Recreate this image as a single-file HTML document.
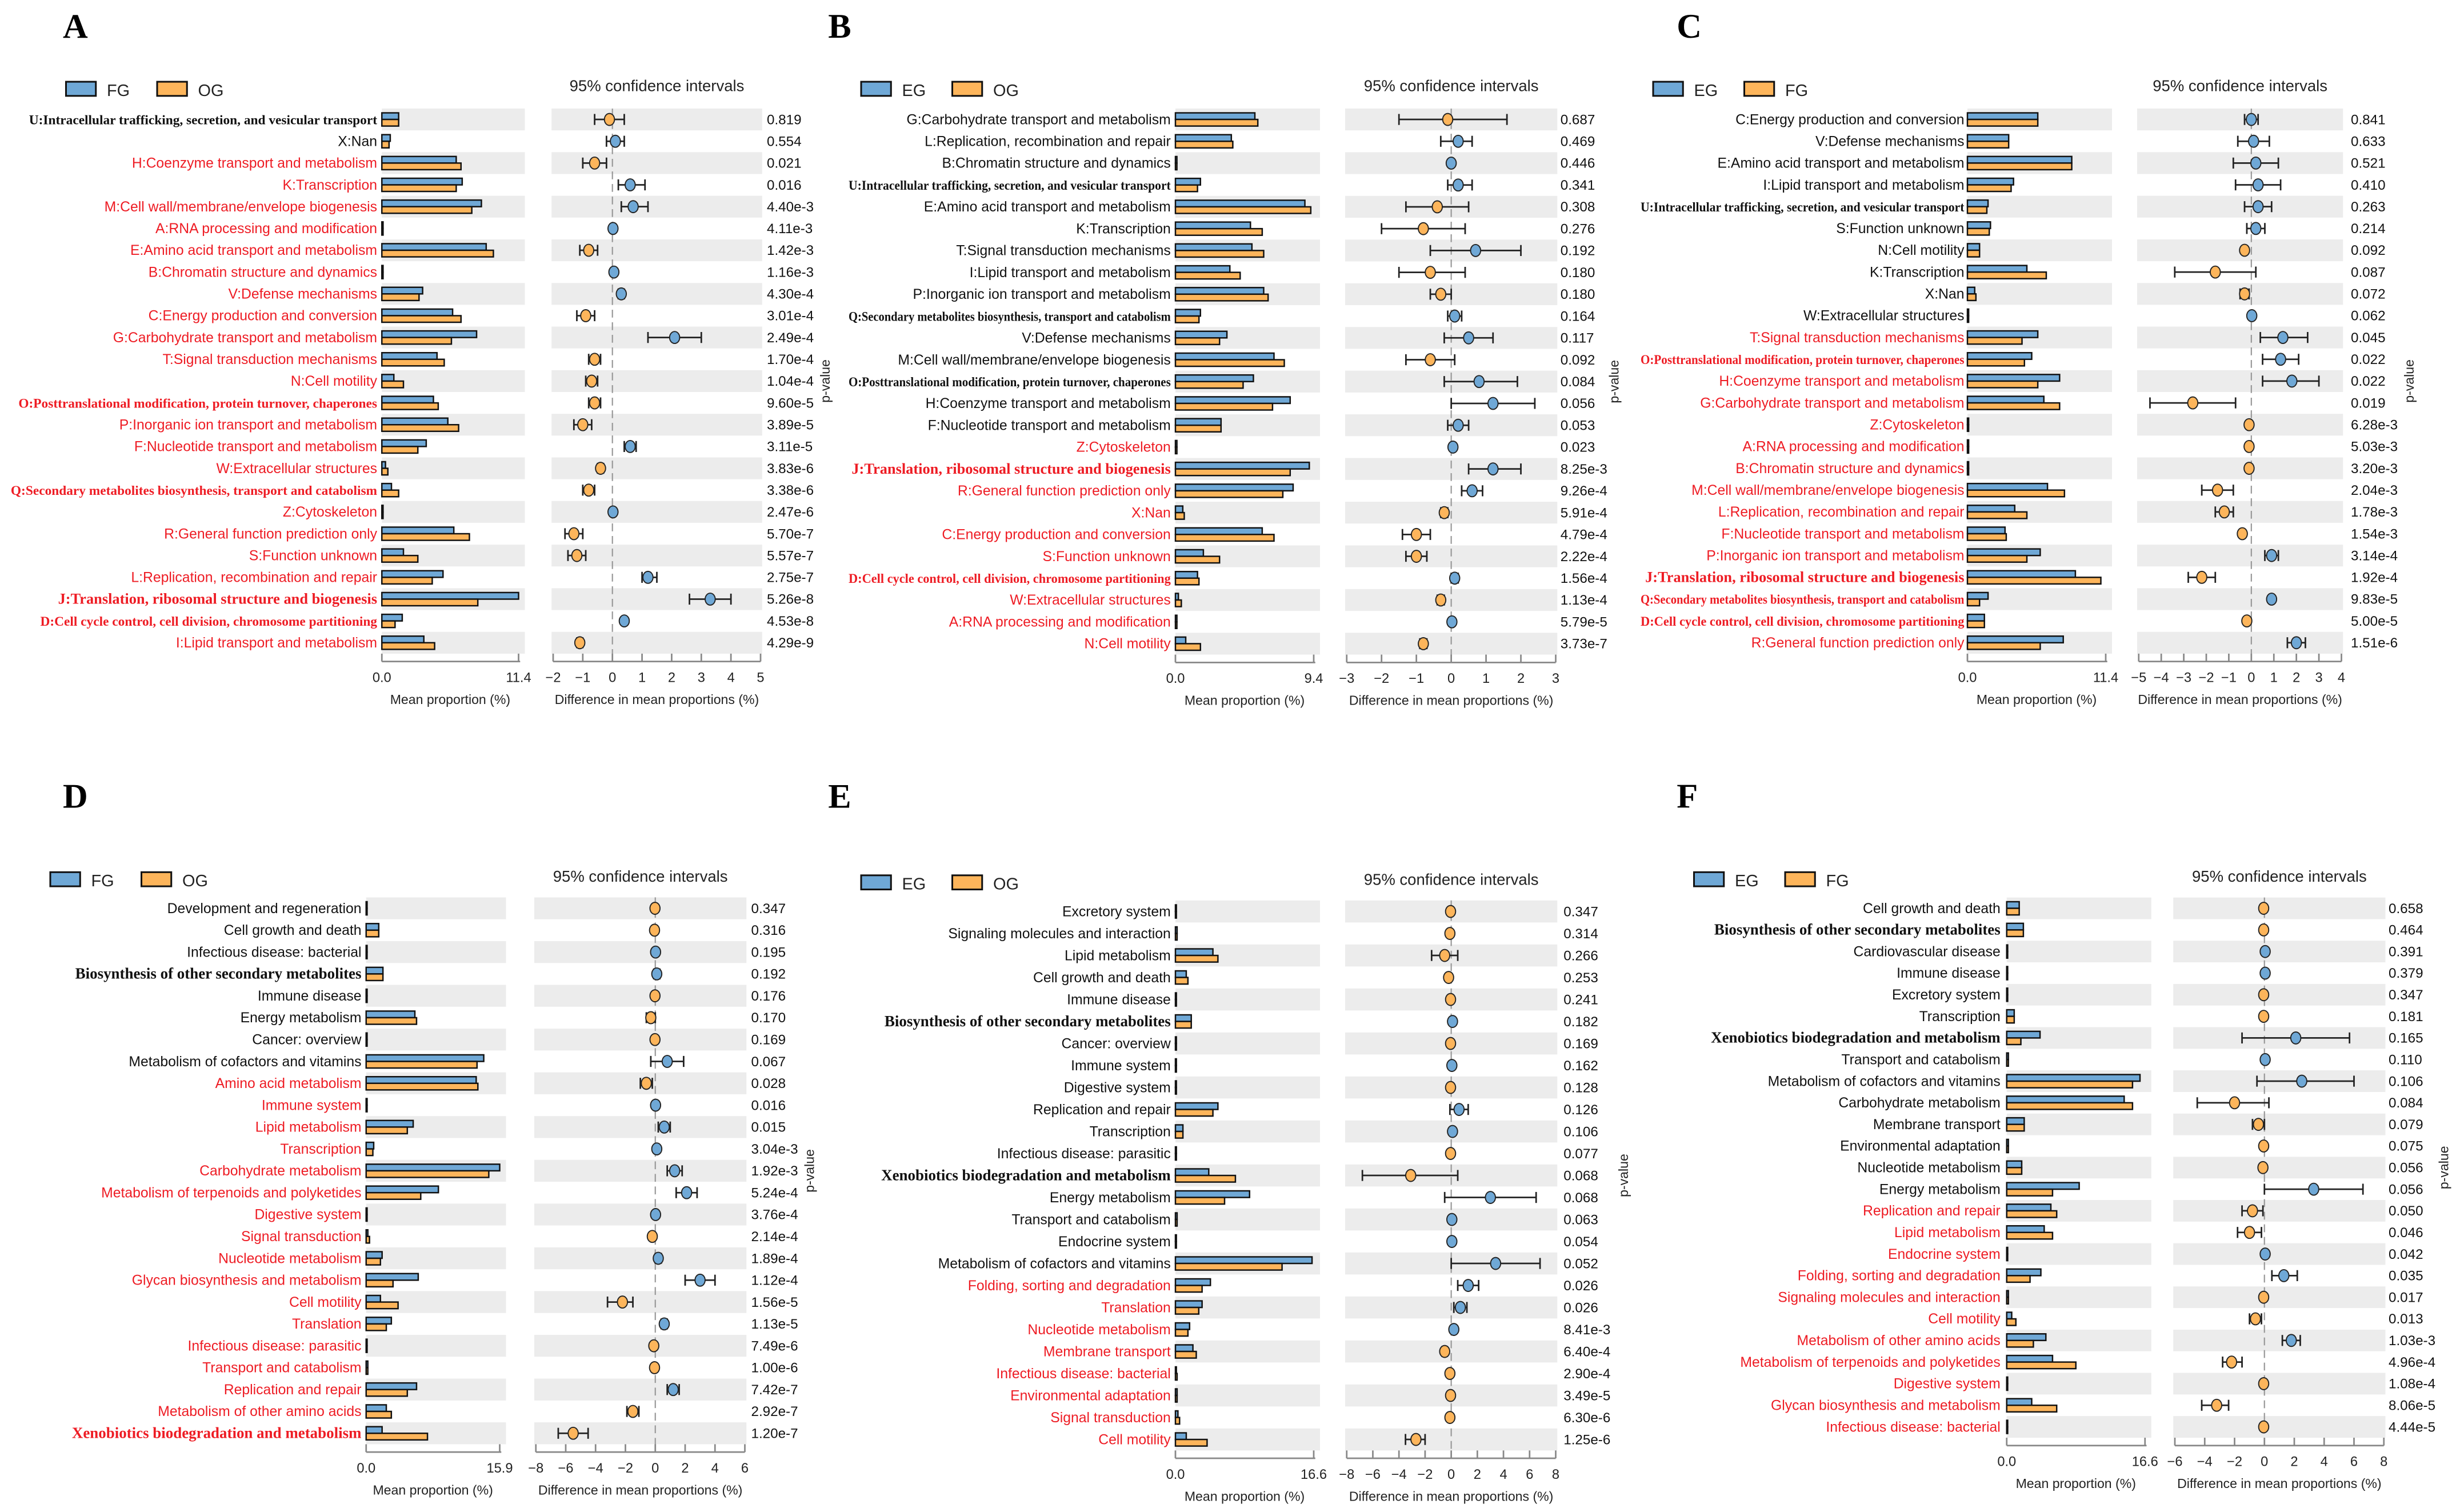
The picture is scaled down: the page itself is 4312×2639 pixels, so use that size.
<!DOCTYPE html>
<html><head><meta charset="utf-8"><style>
html,body{margin:0;padding:0;background:#fff;}
svg{display:block;}
</style></head><body>
<svg id="fig" xmlns="http://www.w3.org/2000/svg" width="4312" height="2639" viewBox="0 0 1568 959.6"></svg>
<script>
// ---------- DATA ----------
const aLabels=["U:Intracellular trafficking, secretion, and vesicular transport","X:Nan","H:Coenzyme transport and metabolism","K:Transcription","M:Cell wall/membrane/envelope biogenesis","A:RNA processing and modification","E:Amino acid transport and metabolism","B:Chromatin structure and dynamics","V:Defense mechanisms","C:Energy production and conversion","G:Carbohydrate transport and metabolism","T:Signal transduction mechanisms","N:Cell motility","O:Posttranslational modification, protein turnover, chaperones","P:Inorganic ion transport and metabolism","F:Nucleotide transport and metabolism","W:Extracellular structures","Q:Secondary metabolites biosynthesis, transport and catabolism","Z:Cytoskeleton","R:General function prediction only","S:Function unknown","L:Replication, recombination and repair","J:Translation, ribosomal structure and biogenesis","D:Cell cycle control, cell division, chromosome partitioning","I:Lipid transport and metabolism"];
const aStyle=["ks","k","r","r","r","r","r","r","r","r","r","r","r","rs","r","r","r","rs","r","r","r","r","rS","rs","r"];
const aG1=[1.4,0.7,6.2,6.7,8.3,0.1,8.7,0.1,3.4,5.9,7.9,4.6,1.0,4.3,5.5,3.7,0.3,0.8,0.1,6.0,1.8,5.1,11.4,1.7,3.5];
const aG2=[1.4,0.6,6.6,6.2,7.5,0.1,9.3,0.1,3.1,6.6,5.8,5.2,1.8,4.7,6.4,3.0,0.5,1.4,0.1,7.3,3.0,4.2,8.0,1.1,4.4];
const aDiff=[-0.1,0.1,-0.6,0.6,0.7,0.02,-0.8,0.05,0.3,-0.9,2.1,-0.6,-0.7,-0.6,-1.0,0.6,-0.4,-0.8,0.02,-1.3,-1.2,1.2,3.3,0.4,-1.1];
const aLo=[-0.6,-0.2,-1.0,0.2,0.3,0.0,-1.1,0.03,0.2,-1.2,1.2,-0.8,-0.9,-0.8,-1.3,0.4,-0.5,-1.0,0.0,-1.6,-1.5,1.0,2.6,0.35,-1.2];
const aHi=[0.4,0.4,-0.2,1.1,1.2,0.04,-0.5,0.07,0.4,-0.6,3.0,-0.4,-0.5,-0.4,-0.7,0.8,-0.3,-0.6,0.04,-1.0,-0.9,1.5,4.0,0.45,-1.0];
const aP=["0.819","0.554","0.021","0.016","4.40e-3","4.11e-3","1.42e-3","1.16e-3","4.30e-4","3.01e-4","2.49e-4","1.70e-4","1.04e-4","9.60e-5","3.89e-5","3.11e-5","3.83e-6","3.38e-6","2.47e-6","5.70e-7","5.57e-7","2.75e-7","5.26e-8","4.53e-8","4.29e-9"];

const bLabels=["G:Carbohydrate transport and metabolism","L:Replication, recombination and repair","B:Chromatin structure and dynamics","U:Intracellular trafficking, secretion, and vesicular transport","E:Amino acid transport and metabolism","K:Transcription","T:Signal transduction mechanisms","I:Lipid transport and metabolism","P:Inorganic ion transport and metabolism","Q:Secondary metabolites biosynthesis, transport and catabolism","V:Defense mechanisms","M:Cell wall/membrane/envelope biogenesis","O:Posttranslational modification, protein turnover, chaperones","H:Coenzyme transport and metabolism","F:Nucleotide transport and metabolism","Z:Cytoskeleton","J:Translation, ribosomal structure and biogenesis","R:General function prediction only","X:Nan","C:Energy production and conversion","S:Function unknown","D:Cell cycle control, cell division, chromosome partitioning","W:Extracellular structures","A:RNA processing and modification","N:Cell motility"];
const bStyle=["k","k","k","ks","k","k","k","k","k","ks","k","k","ks","k","k","r","rS","r","r","r","r","rs","r","r","r"];
const bG1=[5.4,3.8,0.1,1.7,8.8,5.1,5.2,3.7,6.0,1.7,3.5,6.7,5.3,7.8,3.1,0.1,9.1,8.0,0.5,5.9,1.9,1.5,0.2,0.1,0.7];
const bG2=[5.6,3.9,0.1,1.5,9.2,5.9,6.0,4.4,6.3,1.6,3.0,7.4,4.6,6.6,3.1,0.1,7.8,7.3,0.6,6.7,3.0,1.6,0.4,0.1,1.7];
const bDiff=[-0.1,0.2,0.0,0.2,-0.4,-0.8,0.7,-0.6,-0.3,0.1,0.5,-0.6,0.8,1.2,0.2,0.05,1.2,0.6,-0.2,-1.0,-1.0,0.1,-0.3,0.02,-0.8];
const bLo=[-1.5,-0.3,-0.05,-0.1,-1.3,-2.0,-0.6,-1.5,-0.6,-0.1,-0.2,-1.3,-0.2,0.0,-0.1,0.0,0.5,0.3,-0.3,-1.4,-1.3,0.0,-0.4,0.0,-0.9];
const bHi=[1.6,0.6,0.05,0.6,0.5,0.4,2.0,0.4,0.0,0.3,1.2,0.1,1.9,2.4,0.5,0.1,2.0,0.9,-0.1,-0.6,-0.7,0.2,-0.2,0.04,-0.7];
const bP=["0.687","0.469","0.446","0.341","0.308","0.276","0.192","0.180","0.180","0.164","0.117","0.092","0.084","0.056","0.053","0.023","8.25e-3","9.26e-4","5.91e-4","4.79e-4","2.22e-4","1.56e-4","1.13e-4","5.79e-5","3.73e-7"];

const cLabels=["C:Energy production and conversion","V:Defense mechanisms","E:Amino acid transport and metabolism","I:Lipid transport and metabolism","U:Intracellular trafficking, secretion, and vesicular transport","S:Function unknown","N:Cell motility","K:Transcription","X:Nan","W:Extracellular structures","T:Signal transduction mechanisms","O:Posttranslational modification, protein turnover, chaperones","H:Coenzyme transport and metabolism","G:Carbohydrate transport and metabolism","Z:Cytoskeleton","A:RNA processing and modification","B:Chromatin structure and dynamics","M:Cell wall/membrane/envelope biogenesis","L:Replication, recombination and repair","F:Nucleotide transport and metabolism","P:Inorganic ion transport and metabolism","J:Translation, ribosomal structure and biogenesis","Q:Secondary metabolites biosynthesis, transport and catabolism","D:Cell cycle control, cell division, chromosome partitioning","R:General function prediction only"];
const cStyle=["k","k","k","k","ks","k","k","k","k","k","r","rs","r","r","r","r","r","r","r","r","r","rS","rs","rs","r"];
const cG1=[5.8,3.4,8.6,3.8,1.7,1.9,1.0,4.9,0.6,0.1,5.8,5.3,7.6,6.3,0.1,0.1,0.1,6.6,3.9,3.1,6.0,8.9,1.7,1.4,7.9];
const cG2=[5.8,3.4,8.6,3.6,1.6,1.8,1.0,6.5,0.7,0.1,4.5,4.7,5.8,7.6,0.1,0.1,0.1,8.0,4.9,3.2,4.9,11.0,1.0,1.4,6.0];
const cDiff=[0.0,0.1,0.2,0.3,0.3,0.2,-0.3,-1.6,-0.3,0.02,1.4,1.3,1.8,-2.6,-0.1,-0.1,-0.1,-1.5,-1.2,-0.4,0.9,-2.2,0.9,-0.2,2.0];
const cLo=[-0.3,-0.6,-0.8,-0.7,-0.3,-0.2,-0.4,-3.4,-0.5,0.0,0.4,0.5,0.5,-4.5,-0.15,-0.15,-0.15,-2.2,-1.6,-0.5,0.6,-2.8,0.8,-0.3,1.6];
const cHi=[0.3,0.8,1.2,1.3,0.9,0.6,-0.2,0.2,-0.1,0.04,2.5,2.1,3.0,-0.7,-0.05,-0.05,-0.05,-0.8,-0.8,-0.3,1.2,-1.6,1.0,-0.1,2.4];
const cP=["0.841","0.633","0.521","0.410","0.263","0.214","0.092","0.087","0.072","0.062","0.045","0.022","0.022","0.019","6.28e-3","5.03e-3","3.20e-3","2.04e-3","1.78e-3","1.54e-3","3.14e-4","1.92e-4","9.83e-5","5.00e-5","1.51e-6"];

const dLabels=["Development and regeneration","Cell growth and death","Infectious disease: bacterial","Biosynthesis of other secondary metabolites","Immune disease","Energy metabolism","Cancer: overview","Metabolism of cofactors and vitamins","Amino acid metabolism","Immune system","Lipid metabolism","Transcription","Carbohydrate metabolism","Metabolism of terpenoids and polyketides","Digestive system","Signal transduction","Nucleotide metabolism","Glycan biosynthesis and metabolism","Cell motility","Translation","Infectious disease: parasitic","Transport and catabolism","Replication and repair","Metabolism of other amino acids","Xenobiotics biodegradation and metabolism"];
const dStyle=["k","k","k","ks","k","k","k","k","r","r","r","r","r","r","r","r","r","r","r","r","r","r","r","r","rs"];
const dG1=[0.05,1.5,0.1,2.0,0.1,5.8,0.1,14.0,13.1,0.1,5.6,0.9,15.9,8.6,0.1,0.2,1.9,6.2,1.7,3.0,0.1,0.2,6.0,2.4,1.9];
const dG2=[0.05,1.5,0.1,2.0,0.1,6.0,0.1,13.2,13.3,0.1,4.9,0.8,14.6,6.5,0.1,0.4,1.7,3.2,3.8,2.4,0.1,0.2,4.9,3.0,7.3];
const dDiff=[-0.02,-0.05,0.02,0.1,-0.02,-0.3,-0.02,0.8,-0.6,0.02,0.6,0.1,1.3,2.1,0.02,-0.2,0.2,3.0,-2.2,0.6,-0.1,-0.05,1.2,-1.5,-5.5];
const dLo=[-0.1,-0.2,-0.05,-0.1,-0.1,-0.6,-0.1,-0.3,-1.0,-0.05,0.2,0.0,0.8,1.4,-0.05,-0.3,0.0,2.0,-3.2,0.4,-0.2,-0.1,0.8,-1.9,-6.5];
const dHi=[0.1,0.1,0.05,0.3,0.1,0.0,0.1,1.9,-0.2,0.05,1.0,0.2,1.8,2.8,0.05,-0.1,0.4,4.0,-1.5,0.8,0.0,0.0,1.6,-1.1,-4.5];
const dP=["0.347","0.316","0.195","0.192","0.176","0.170","0.169","0.067","0.028","0.016","0.015","3.04e-3","1.92e-3","5.24e-4","3.76e-4","2.14e-4","1.89e-4","1.12e-4","1.56e-5","1.13e-5","7.49e-6","1.00e-6","7.42e-7","2.92e-7","1.20e-7"];

const eLabels=["Excretory system","Signaling molecules and interaction","Lipid metabolism","Cell growth and death","Immune disease","Biosynthesis of other secondary metabolites","Cancer: overview","Immune system","Digestive system","Replication and repair","Transcription","Infectious disease: parasitic","Xenobiotics biodegradation and metabolism","Energy metabolism","Transport and catabolism","Endocrine system","Metabolism of cofactors and vitamins","Folding, sorting and degradation","Translation","Nucleotide metabolism","Membrane transport","Infectious disease: bacterial","Environmental adaptation","Signal transduction","Cell motility"];
const eStyle=["k","k","k","k","k","ks","k","k","k","k","k","k","ks","k","k","k","k","r","r","r","r","r","r","r","r"];
const eG1=[0.05,0.2,4.5,1.3,0.05,1.9,0.05,0.05,0.05,5.1,0.9,0.05,4.0,8.9,0.2,0.05,16.4,4.2,3.2,1.7,2.1,0.1,0.2,0.3,1.3];
const eG2=[0.05,0.2,5.1,1.5,0.05,1.9,0.05,0.05,0.05,4.5,0.9,0.05,7.2,5.9,0.2,0.05,12.8,3.2,2.8,1.5,2.5,0.2,0.2,0.5,3.8];
const eDiff=[-0.05,-0.1,-0.5,-0.2,-0.05,0.1,-0.05,0.05,-0.05,0.6,0.1,-0.05,-3.1,3.0,0.05,0.05,3.4,1.3,0.7,0.2,-0.5,-0.1,-0.05,-0.1,-2.7];
const eLo=[-0.1,-0.2,-1.5,-0.3,-0.1,0.0,-0.1,0.0,-0.1,-0.1,0.0,-0.1,-6.8,-0.5,0.0,0.0,0.0,0.5,0.2,0.1,-0.7,-0.2,-0.1,-0.2,-3.5];
const eHi=[0.0,0.0,0.5,-0.1,0.0,0.2,0.0,0.1,0.0,1.3,0.2,0.0,0.5,6.5,0.1,0.1,6.8,2.1,1.2,0.3,-0.3,0.0,0.0,0.0,-2.0];
const eP=["0.347","0.314","0.266","0.253","0.241","0.182","0.169","0.162","0.128","0.126","0.106","0.077","0.068","0.068","0.063","0.054","0.052","0.026","0.026","8.41e-3","6.40e-4","2.90e-4","3.49e-5","6.30e-6","1.25e-6"];

const fLabels=["Cell growth and death","Biosynthesis of other secondary metabolites","Cardiovascular disease","Immune disease","Excretory system","Transcription","Xenobiotics biodegradation and metabolism","Transport and catabolism","Metabolism of cofactors and vitamins","Carbohydrate metabolism","Membrane transport","Environmental adaptation","Nucleotide metabolism","Energy metabolism","Replication and repair","Lipid metabolism","Endocrine system","Folding, sorting and degradation","Signaling molecules and interaction","Cell motility","Metabolism of other amino acids","Metabolism of terpenoids and polyketides","Digestive system","Glycan biosynthesis and metabolism","Infectious disease: bacterial"];
const fStyle=["k","ks","k","k","k","k","ks","k","k","k","k","k","k","k","r","r","r","r","r","r","r","r","r","r","r"];
const fG1=[1.5,2.0,0.05,0.05,0.05,0.9,4.0,0.2,16.0,14.1,2.1,0.2,1.8,8.7,5.3,4.5,0.05,4.1,0.2,0.6,4.7,5.5,0.05,3.0,0.05];
const fG2=[1.5,2.0,0.05,0.05,0.05,0.9,1.7,0.2,15.1,15.1,2.1,0.2,1.8,5.5,6.0,5.5,0.05,2.8,0.2,1.1,3.2,8.3,0.05,6.0,0.05];
const fDiff=[-0.05,-0.05,0.05,0.05,-0.05,-0.05,2.1,0.05,2.5,-2.0,-0.4,-0.05,-0.1,3.3,-0.8,-1.0,0.05,1.3,-0.05,-0.6,1.8,-2.2,-0.05,-3.2,-0.05];
const fLo=[-0.1,-0.1,0.0,0.0,-0.1,-0.1,-1.5,0.0,-0.5,-4.5,-0.8,-0.1,-0.2,0.0,-1.5,-1.8,0.0,0.5,-0.1,-1.0,1.2,-2.8,-0.1,-4.2,-0.1];
const fHi=[0.0,0.0,0.1,0.1,0.0,0.0,5.7,0.1,6.0,0.3,0.0,0.0,0.0,6.6,-0.1,-0.2,0.1,2.2,0.0,-0.2,2.4,-1.5,0.0,-2.4,0.0];
const fP=["0.658","0.464","0.391","0.379","0.347","0.181","0.165","0.110","0.106","0.084","0.079","0.075","0.056","0.056","0.050","0.046","0.042","0.035","0.017","0.013","1.03e-3","4.96e-4","1.08e-4","8.06e-5","4.44e-5"];

const aTicks=[-2,-1,0,1,2,3,4,5], bTicks=[-3,-2,-1,0,1,2,3], cTicks=[-5,-4,-3,-2,-1,0,1,2,3,4];
const dTicks=[-8,-6,-4,-2,0,2,4,6], eTicks=[-8,-6,-4,-2,0,2,4,6,8], fTicks=[-6,-4,-2,0,2,4,6,8];

// ---------- RENDER ----------
const NS="http://www.w3.org/2000/svg";
const svg=document.getElementById('fig');
const BLUE="#6fa8d6", ORANGE="#fdb55b", RED="#ee1c24";
function mk(tag,attrs,parent,txt){const e=document.createElementNS(NS,tag);for(const k in attrs)e.setAttribute(k,attrs[k]);if(txt!==undefined)e.textContent=txt;(parent||svg).appendChild(e);return e;}

function panel(P){
  const g=mk('g',{});
  
  
  const n=P.labels.length;
  const rowY=i=>P.y0+i*P.dy;
  const bx=v=>P.bx0+(P.bx1-P.bx0)*v/P.max;
  const cx=v=>P.cx0+(P.cx1-P.cx0)*(v-P.tk[0])/(P.tk[P.tk.length-1]-P.tk[0]);
  const L=mk('text',{x:P.lx,y:P.ly,'font-family':'Liberation Serif, serif','font-weight':'bold','font-size':22},g,P.id);
  
  
  [[P.n1,BLUE],[P.n2,ORANGE]].forEach((d,k)=>{
    const x=P.legX+k*58;
    const r=mk('rect',{x:x,y:P.legY-5,width:19,height:9,fill:d[1],stroke:'#111','stroke-width':1.1},g);
    
    
    const t=mk('text',{x:x+26,y:P.legY+4,'font-family':'Liberation Sans, sans-serif','font-size':10.5,fill:'#222'},g,d[0]);
    
    
  });
  const tt=mk('text',{x:(P.cx0+P.cx1)/2,y:P.legY+1,'text-anchor':'middle','font-family':'Liberation Sans, sans-serif','font-size':10,fill:'#222'},g,'95% confidence intervals');
  
  
  for(let i=0;i<n;i+=2){
    const b1=mk('rect',{x:P.bx0,y:rowY(i)-P.dy/2,width:P.bx1-P.bx0+4,height:P.dy,fill:'#ececec'},g);
    
    
    const b2=mk('rect',{x:P.cx0-1,y:rowY(i)-P.dy/2,width:P.cx1-P.cx0+2,height:P.dy,fill:'#ececec'},g);
    
    
  }
  const zl=mk('line',{x1:cx(0),x2:cx(0),y1:rowY(0)-P.dy/2,y2:rowY(n-1)+P.dy/2+4,stroke:'#999','stroke-width':0.8,'stroke-dasharray':'5,3'},g);
  
  
  for(let i=0;i<n;i++){
    const y=rowY(i), st=P.style[i];
    const red=st[0]==='r', serif=st.length>1, big=st==='rS';
    const fs=big?9.6:(serif?(P.labels[i].length>50?8.5:9.8):9.0);
    const t=mk('text',{x:P.lx2,y:y+3,'text-anchor':'end','font-family':serif?'Liberation Serif, serif':'Liberation Sans, sans-serif','font-weight':serif?'bold':'normal','font-size':fs,fill:red?RED:'#111'},g,P.labels[i]);
    
    
    const maxW=P.lx2-P.minX;
    if(t.getComputedTextLength()>maxW){t.setAttribute('textLength',maxW);t.setAttribute('lengthAdjust','spacingAndGlyphs');}
    const h=4.2;
    const r1=mk('rect',{x:P.bx0,y:y-h,width:Math.max(0.6,bx(P.g1[i])-P.bx0),height:h,fill:BLUE,stroke:'#111','stroke-width':0.9},g);
    
    
    const r2=mk('rect',{x:P.bx0,y:y,width:Math.max(0.6,bx(P.g2[i])-P.bx0),height:h,fill:ORANGE,stroke:'#111','stroke-width':0.9},g);
    
    
    const e=mk('line',{x1:cx(P.lo[i]),x2:cx(P.hi[i]),y1:y,y2:y,stroke:'#222','stroke-width':1},g);
    
    
    [P.lo[i],P.hi[i]].forEach(v=>{
      const c=mk('line',{x1:cx(v),x2:cx(v),y1:y-3.5,y2:y+3.5,stroke:'#222','stroke-width':1},g);
      
      
    });
    const m=mk('ellipse',{cx:cx(P.diff[i]),cy:y,rx:3.2,ry:3.8,fill:P.diff[i]>=0?BLUE:ORANGE,stroke:'#222','stroke-width':0.7},g);
    
    
    const pv=mk('text',{x:P.px,y:y+3,'font-family':'Liberation Sans, sans-serif','font-size':8.8,fill:'#111'},g,P.p[i]);
    
    
  }
  const ay=rowY(n-1)+P.dy/2+5;
  const ax=mk('line',{x1:P.bx0,x2:P.bx1+1,y1:ay,y2:ay,stroke:'#888','stroke-width':1},g);
  
  
  [[0,'0.0'],[P.max,String(P.max)]].forEach(d=>{
    const tk=mk('line',{x1:bx(d[0]),x2:bx(d[0]),y1:ay-5,y2:ay,stroke:'#888','stroke-width':1},g);
    
    
    const tl=mk('text',{x:bx(d[0]),y:ay+13,'text-anchor':'middle','font-family':'Liberation Sans, sans-serif','font-size':8.6,fill:'#222'},g,d[1]);
    
    
  });
  const at=mk('text',{x:(P.bx0+P.bx1)/2,y:ay+27,'text-anchor':'middle','font-family':'Liberation Sans, sans-serif','font-size':8.4,fill:'#222'},g,'Mean proportion (%)');
  
  
  const cxl=mk('line',{x1:P.cx0,x2:P.cx1,y1:ay,y2:ay,stroke:'#888','stroke-width':1},g);
  
  
  P.tk.forEach(v=>{
    const tk=mk('line',{x1:cx(v),x2:cx(v),y1:ay-5,y2:ay,stroke:'#888','stroke-width':1},g);
    
    
    const tl=mk('text',{x:cx(v),y:ay+13,'text-anchor':'middle','font-family':'Liberation Sans, sans-serif','font-size':8.6,fill:'#222'},g,v<0?'\u2212'+(-v):String(v));
    
    
  });
  const ct=mk('text',{x:(P.cx0+P.cx1)/2,y:ay+27,'text-anchor':'middle','font-family':'Liberation Sans, sans-serif','font-size':8.4,fill:'#222'},g,'Difference in mean proportions (%)');
  
  
  const pl=mk('text',{x:P.pvx,y:(rowY(0)+rowY(n-1))/2,'text-anchor':'middle','font-family':'Liberation Sans, sans-serif','font-size':8.4,fill:'#222',transform:`rotate(-90 ${P.pvx} ${(rowY(0)+rowY(n-1))/2})`},g,'p-value');
  
  
}

panel({id:'A',n1:'FG',n2:'OG',labels:aLabels,style:aStyle,g1:aG1,g2:aG2,diff:aDiff,lo:aLo,hi:aHi,p:aP,tk:aTicks,minX:6,
  lx:40,ly:24,legX:42,legY:57,y0:76,dy:13.875,lx2:240,bx0:243,bx1:330,max:11.4,cx0:352,cx1:484,px:488,pvx:528});
panel({id:'B',n1:'EG',n2:'OG',labels:bLabels,style:bStyle,g1:bG1,g2:bG2,diff:bDiff,lo:bLo,hi:bHi,p:bP,tk:bTicks,minX:540,
  lx:527,ly:24,legX:548,legY:57,y0:76,dy:13.9,lx2:745,bx0:748,bx1:836,max:9.4,cx0:857,cx1:990,px:993,pvx:1030});
panel({id:'C',n1:'EG',n2:'FG',labels:cLabels,style:cStyle,g1:cG1,g2:cG2,diff:cDiff,lo:cLo,hi:cHi,p:cP,tk:cTicks,minX:1044,
  lx:1067,ly:24,legX:1052,legY:57,y0:76,dy:13.875,lx2:1250,bx0:1252,bx1:1340,max:11.4,cx0:1361,cx1:1490,px:1496,pvx:1536});
panel({id:'D',n1:'FG',n2:'OG',labels:dLabels,style:dStyle,g1:dG1,g2:dG2,diff:dDiff,lo:dLo,hi:dHi,p:dP,tk:dTicks,minX:20,
  lx:40,ly:514,legX:32,legY:560,y0:578,dy:13.92,lx2:230,bx0:233,bx1:318,max:15.9,cx0:341,cx1:474,px:478,pvx:518});
panel({id:'E',n1:'EG',n2:'OG',labels:eLabels,style:eStyle,g1:eG1,g2:eG2,diff:eDiff,lo:eLo,hi:eHi,p:eP,tk:eTicks,minX:545,
  lx:527,ly:514,legX:548,legY:562,y0:580,dy:14,lx2:745,bx0:748,bx1:836,max:16.6,cx0:857,cx1:990,px:995,pvx:1036});
panel({id:'F',n1:'EG',n2:'FG',labels:fLabels,style:fStyle,g1:fG1,g2:fG2,diff:fDiff,lo:fLo,hi:fHi,p:fP,tk:fTicks,minX:1078,
  lx:1067,ly:514,legX:1078,legY:560,y0:578,dy:13.75,lx2:1273,bx0:1277,bx1:1365,max:16.6,cx0:1384,cx1:1517,px:1520,pvx:1558});
</script>
</body></html>
